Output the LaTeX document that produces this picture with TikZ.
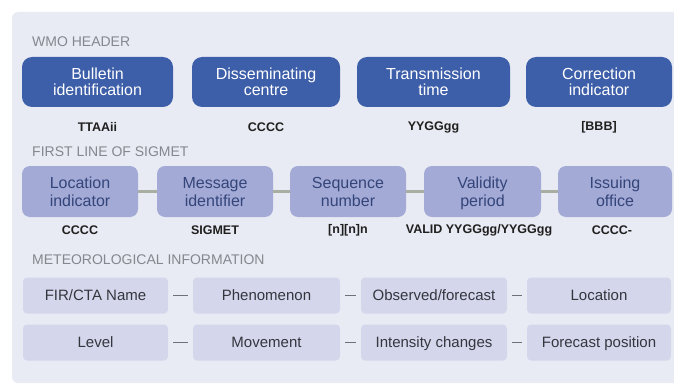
\documentclass[tikz,border=0pt]{standalone}
\usepackage{fontspec}
\setmainfont{Liberation Sans}
\definecolor{panel}{HTML}{E9EBF4}
\definecolor{darkbox}{HTML}{3D5EA8}
\definecolor{midbox}{HTML}{A3AAD6}
\definecolor{midtext}{HTML}{34457A}
\definecolor{lightbox}{HTML}{D4D7EC}
\definecolor{lighttext}{HTML}{34363E}
\definecolor{headtext}{HTML}{85878F}
\definecolor{conngreen}{HTML}{A8AFA2}
\definecolor{conngrey}{HTML}{6E6F78}
\newcommand{\toprl}{\rule{0pt}{15pt}}
\newcommand{\botrl}{\vphantom{g}}
\begin{document}
\begin{tikzpicture}[x=1pt,y=-1pt,
  hdr/.style={anchor=west,text=headtext,font=\fontsize{14}{16}\selectfont,inner sep=0pt},
  wmobox/.style={fill=darkbox,rounded corners=10pt,minimum height=50pt,text=white,
    align=center,font=\fontsize{16}{16}\selectfont,inner sep=0pt},
  sigbox/.style={fill=midbox,rounded corners=8pt,minimum height=51pt,text=midtext,
    align=center,font=\fontsize{16}{18}\selectfont,inner sep=0pt},
  metbox/.style={fill=lightbox,rounded corners=4pt,minimum height=36pt,text=lighttext,
    font=\fontsize{15}{17}\selectfont,inner sep=0pt,text height=12pt,text depth=2.5pt},
  codelbl/.style={text=black!88,font=\bfseries\fontsize{12.5}{14}\selectfont,inner sep=0pt},
  conna/.style={draw=conngreen,line width=3pt},
  connb/.style={draw=conngrey,line width=1.5pt,shorten >=5pt,shorten <=5pt}
]
\useasboundingbox (0,0) rectangle (674,385);
\fill[white] (0,0) rectangle (674,385);
\fill[panel,rounded corners=6pt] (12,12) rectangle (690,383);

% headers
\node[hdr] (h1) at (32,42) {WMO HEADER};
\node[hdr] (h2) at (32,152) {FIRST LINE OF SIGMET};
\node[hdr] (h3) at (32,260) {METEOROLOGICAL INFORMATION};

% row 1
\node[wmobox,minimum width=151pt] (w1) at (97.5,82) {\toprl Bulletin\\identification\botrl};
\node[wmobox,minimum width=148pt] (w2) at (266,82) {\toprl Disseminating\\centre\botrl};
\node[wmobox,minimum width=153pt] (w3) at (433.5,82) {\toprl Transmission\\time\botrl};
\node[wmobox,minimum width=146pt] (w4) at (599,82) {\toprl Correction\\indicator\botrl};
\node[codelbl] (c1) at (97.5,127) {TTAAii};
\node[codelbl] (c2) at (266,127) {CCCC};
\node[codelbl] (c3) at (433.5,127) {YYGGgg};
\node[codelbl] (c4) at (599,127) {[BBB]};

% row 2
\node[sigbox,minimum width=116pt] (s1) at (80,191.5) {\toprl Location\\indicator\botrl};
\node[sigbox,minimum width=116pt] (s2) at (215,191.5) {\toprl Message\\identifier\botrl};
\node[sigbox,minimum width=116pt] (s3) at (348,191.5) {\toprl Sequence\\number\botrl};
\node[sigbox,minimum width=117pt] (s4) at (482.5,191.5) {\toprl Validity\\period\botrl};
\node[sigbox,minimum width=114pt] (s5) at (615,191.5) {\toprl Issuing\\office\botrl};
\draw[conna] (s1) -- (s2);
\draw[conna] (s2) -- (s3);
\draw[conna] (s3) -- (s4);
\draw[conna] (s4) -- (s5);
\node[codelbl] (d1) at (80,230) {CCCC};
\node[codelbl] (d2) at (215,230) {SIGMET};
\node[codelbl] (d3) at (348,230) {[n][n]n};
\node[codelbl] (d4) at (479,230) {VALID YYGGgg/YYGGgg};
\node[codelbl] (d5) at (612,230) {CCCC-};

% row 3
\node[metbox,minimum width=145pt] (m1) at (95.5,295.5) {FIR/CTA Name};
\node[metbox,minimum width=147pt] (m2) at (266.5,295.5) {Phenomenon};
\node[metbox,minimum width=146pt] (m3) at (434,295.5) {Observed/forecast};
\node[metbox,minimum width=144pt] (m4) at (599,295.5) {Location};
\draw[connb] (m1) -- (m2);
\draw[connb] (m2) -- (m3);
\draw[connb] (m3) -- (m4);

% row 4
\node[metbox,minimum width=145pt] (n1) at (95.5,342.5) {Level};
\node[metbox,minimum width=147pt] (n2) at (266.5,342.5) {Movement};
\node[metbox,minimum width=146pt] (n3) at (434,342.5) {Intensity changes};
\node[metbox,minimum width=144pt] (n4) at (599,342.5) {Forecast position};
\draw[connb] (n1) -- (n2);
\draw[connb] (n2) -- (n3);
\draw[connb] (n3) -- (n4);
\end{tikzpicture}
\end{document}
